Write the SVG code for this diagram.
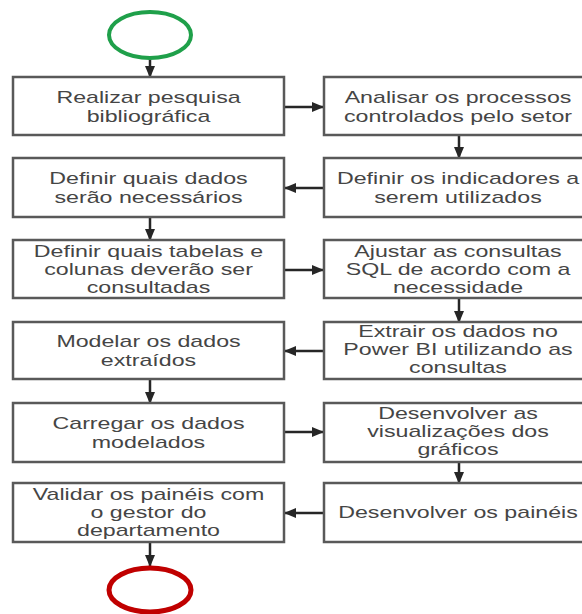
<svg xmlns="http://www.w3.org/2000/svg" width="582" height="614" viewBox="0 0 582 614">
<defs>
<marker id="ah" markerUnits="userSpaceOnUse" markerWidth="12" markerHeight="10" refX="11" refY="5" orient="auto">
<path d="M0,0 L12,5 L0,10 Z" fill="#262626"/>
</marker>
<style>
.box{fill:#ffffff;stroke:#595959;stroke-width:2.5}
.t{font-family:"Liberation Sans",Arial,sans-serif;font-size:16px;fill:#454545;text-anchor:middle}
.c{stroke:#262626;stroke-width:2.5;fill:none;marker-end:url(#ah)}
</style>
</defs>
<rect width="582" height="614" fill="#ffffff"/>
<g id="connectors">
<path class="c" d="M150,58 V77"/>
<path class="c" d="M284,107 H323"/>
<path class="c" d="M459,135 V158"/>
<path class="c" d="M324,188 H285"/>
<path class="c" d="M150,217 V240"/>
<path class="c" d="M284,270 H323"/>
<path class="c" d="M459,298 V322"/>
<path class="c" d="M324,351 H285"/>
<path class="c" d="M150,379 V403"/>
<path class="c" d="M284,432 H323"/>
<path class="c" d="M459,462 V483"/>
<path class="c" d="M324,513 H285"/>
<path class="c" d="M150,542 V566"/>
</g>
<g id="start"><ellipse cx="150" cy="35" rx="41" ry="23" fill="none" stroke="#1fa04a" stroke-width="4"/></g>
<g id="end"><ellipse cx="150" cy="590" rx="41" ry="22" fill="none" stroke="#c00000" stroke-width="5"/></g>
<g id="n1"><rect class="box" x="13" y="77" width="271" height="58"/>
<text class="t" transform="translate(148.5,0) scale(1.45,1)"><tspan x="0" y="103">Realizar pesquisa</tspan><tspan x="0" y="122">bibliográfica</tspan></text></g>
<g id="n2"><rect class="box" x="324" y="77" width="271" height="58"/>
<text class="t" transform="translate(458,0) scale(1.45,1)"><tspan x="0" y="103">Analisar os processos</tspan><tspan x="0" y="122">controlados pelo setor</tspan></text></g>
<g id="n3"><rect class="box" x="324" y="158" width="271" height="59"/>
<text class="t" transform="translate(458,0) scale(1.45,1)"><tspan x="0" y="184">Definir os indicadores a</tspan><tspan x="0" y="203">serem utilizados</tspan></text></g>
<g id="n4"><rect class="box" x="13" y="158" width="271" height="59"/>
<text class="t" transform="translate(148.5,0) scale(1.45,1)"><tspan x="0" y="184">Definir quais dados</tspan><tspan x="0" y="203">serão necessários</tspan></text></g>
<g id="n5"><rect class="box" x="13" y="240" width="271" height="58"/>
<text class="t" transform="translate(148.5,0) scale(1.45,1)"><tspan x="0" y="257">Definir quais tabelas e</tspan><tspan x="0" y="275">colunas deverão ser</tspan><tspan x="0" y="293">consultadas</tspan></text></g>
<g id="n6"><rect class="box" x="324" y="240" width="271" height="58"/>
<text class="t" transform="translate(458,0) scale(1.45,1)"><tspan x="0" y="257">Ajustar as consultas</tspan><tspan x="0" y="275">SQL de acordo com a</tspan><tspan x="0" y="293">necessidade</tspan></text></g>
<g id="n7"><rect class="box" x="324" y="322" width="271" height="57"/>
<text class="t" transform="translate(458,0) scale(1.45,1)"><tspan x="0" y="337.5">Extrair os dados no</tspan><tspan x="0" y="355.5">Power BI utilizando as</tspan><tspan x="0" y="373.5">consultas</tspan></text></g>
<g id="n8"><rect class="box" x="13" y="322" width="271" height="57"/>
<text class="t" transform="translate(148.5,0) scale(1.45,1)"><tspan x="0" y="347">Modelar os dados</tspan><tspan x="0" y="366">extraídos</tspan></text></g>
<g id="n9"><rect class="box" x="13" y="403" width="271" height="59"/>
<text class="t" transform="translate(148.5,0) scale(1.45,1)"><tspan x="0" y="429">Carregar os dados</tspan><tspan x="0" y="448">modelados</tspan></text></g>
<g id="n10"><rect class="box" x="324" y="403" width="271" height="59"/>
<text class="t" transform="translate(458,0) scale(1.45,1)"><tspan x="0" y="419">Desenvolver as</tspan><tspan x="0" y="437">visualizações dos</tspan><tspan x="0" y="455">gráficos</tspan></text></g>
<g id="n11"><rect class="box" x="324" y="483" width="271" height="59"/>
<text class="t" transform="translate(458,0) scale(1.45,1)"><tspan x="0" y="518">Desenvolver os painéis</tspan></text></g>
<g id="n12"><rect class="box" x="13" y="483" width="271" height="59"/>
<text class="t" transform="translate(148.5,0) scale(1.45,1)"><tspan x="0" y="500">Validar os painéis com</tspan><tspan x="0" y="518">o gestor do</tspan><tspan x="0" y="536">departamento</tspan></text></g>
</svg>
